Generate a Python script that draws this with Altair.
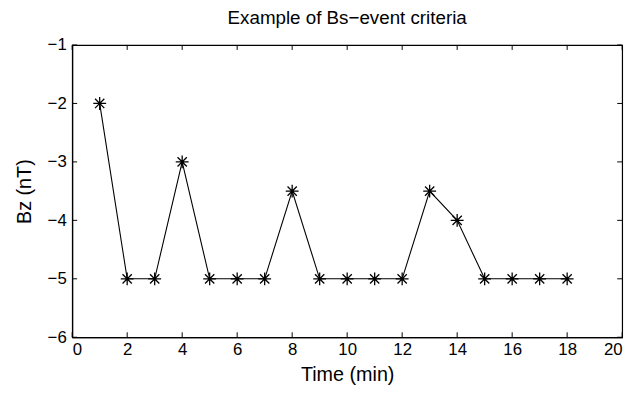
import altair as alt
import pandas as pd

time_min = [1, 2, 3, 4, 5, 6, 7, 8, 9, 10, 11, 12, 13, 14, 15, 16, 17, 18]
bz_nt = [-2, -5, -5, -3, -5, -5, -5, -3.5, -5, -5, -5, -5, -3.5, -4, -5, -5, -5, -5]
x_ticks = [0, 2, 4, 6, 8, 10, 12, 14, 16, 18, 20]
y_ticks = [-6, -5, -4, -3, -2, -1]

W, H = 557, 296
FONT = "Liberation Sans"

df = pd.DataFrame({"t": time_min, "bz": bz_nt})
xt = pd.DataFrame({"v": x_ticks})
yt = pd.DataFrame({"v": y_ticks})

xs = alt.Scale(domain=[0, 20], nice=False, zero=False)
ys = alt.Scale(domain=[-6, -1], nice=False, zero=False)

star = "M-1,0L1,0M0,-1L0,1M-0.72,-0.72L0.72,0.72M-0.72,0.72L0.72,-0.72"

base = alt.Chart(df)
line = base.mark_line(color="black", strokeWidth=1.1).encode(
    x=alt.X("t:Q", scale=xs, title="Time (min)",
            axis=alt.Axis(values=x_ticks, tickSize=0, grid=False, labelPadding=4,
                          titlePadding=8, format="d")),
    y=alt.Y("bz:Q", scale=ys, title="Bz (nT)",
            axis=alt.Axis(values=y_ticks, tickSize=0, grid=False, labelPadding=6,
                          titlePadding=13, format="d")),
)
pts = base.mark_point(shape=star, size=170, color="black", strokeWidth=1.3, filled=False, opacity=1).encode(
    x=alt.X("t:Q", scale=xs), y=alt.Y("bz:Q", scale=ys)
)

xb = alt.Chart(xt).mark_rule(color="black", strokeWidth=1).encode(
    x=alt.X("v:Q", scale=xs), y=alt.value(H), y2=alt.value(H - 5))
xtop = alt.Chart(xt).mark_rule(color="black", strokeWidth=1).encode(
    x=alt.X("v:Q", scale=xs), y=alt.value(0), y2=alt.value(5))
yl = alt.Chart(yt).mark_rule(color="black", strokeWidth=1).encode(
    y=alt.Y("v:Q", scale=ys), x=alt.value(0), x2=alt.value(5))
yr = alt.Chart(yt).mark_rule(color="black", strokeWidth=1).encode(
    y=alt.Y("v:Q", scale=ys), x=alt.value(W), x2=alt.value(W - 5))

chart = alt.layer(line, pts, xb, xtop, yl, yr).properties(
    width=W, height=H,
    background="white",
    title=alt.TitleParams("Example of Bs\u2212event criteria", font=FONT, fontSize=19,
                          fontWeight="normal", color="black", offset=8),
    autosize=alt.AutoSizeParams(type="none"),
    padding={"left": 65, "top": 35, "right": 12, "bottom": 56},
).configure_view(stroke="black", strokeWidth=1.2).configure_axis(
    domainColor="black", domainWidth=1.2, labelFont=FONT, labelFontSize=17,
    labelColor="black", titleFont=FONT, titleFontSize=20, titleFontWeight="normal",
    titleColor="black",
)

chart.save("out.html", embed_options={"renderer": "svg", "actions": False})
